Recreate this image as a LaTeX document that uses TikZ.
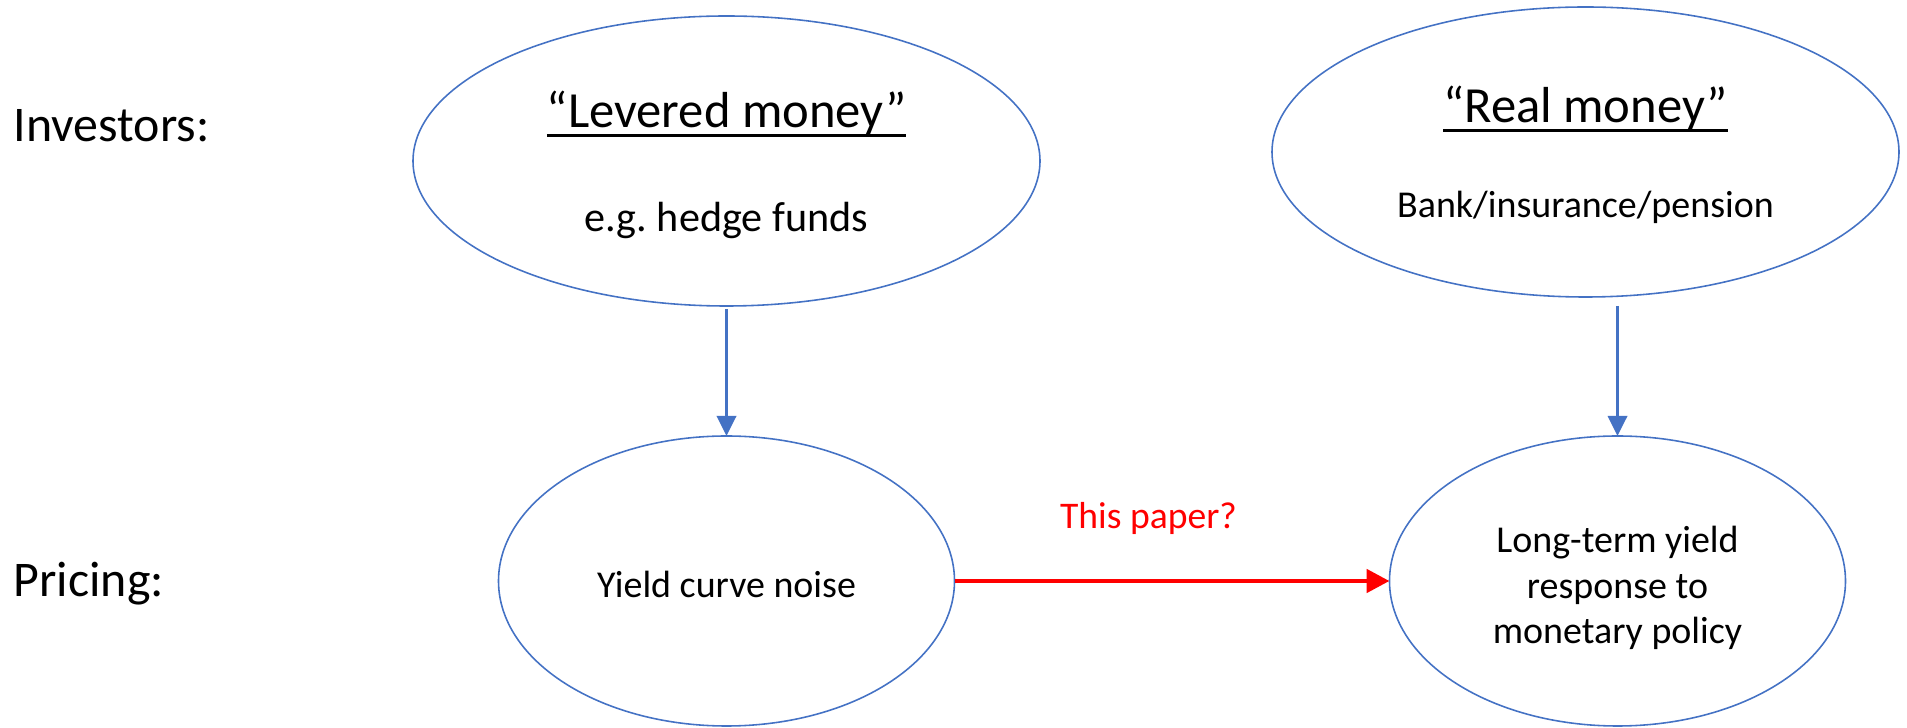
\documentclass[tikz,border=0pt]{standalone}
\usepackage{fontspec}
\setmainfont{Carlito}
\usepackage{xcolor}
\usepackage{tikz}
\usetikzlibrary{positioning, arrows.meta, shapes.geometric}

\definecolor{ellblue}{HTML}{4472C4}
\newcommand{\ulin}[1]{\setbox0\hbox{#1}\rlap{\raisebox{-2.5pt}{\rule{\wd0}{0.9pt}}}\box0}

\begin{document}
\begin{tikzpicture}[
    blob/.style={ellipse, draw=ellblue, line width=0.45pt, inner sep=0pt, outer sep=0pt},
    topblob/.style={blob, minimum width=6.27cm, minimum height=2.9cm},
    lowblob/.style={blob, minimum width=4.56cm, minimum height=2.9cm},
    lowtext/.style={font=\fontsize{10.8}{13}\selectfont, align=center, inner sep=0pt},
    rowlabel/.style={font=\fontsize{14.2}{17}\selectfont, inner sep=0pt, anchor=base west},
    title/.style={font=\fontsize{14.4}{17}\selectfont, inner sep=0pt, anchor=base},
    subtitle/.style={inner sep=0pt, anchor=base},
    arr/.style={-{Triangle[length=0.2cm, width=0.19cm]}, line width=1pt, ellblue},
    redarr/.style={-{Triangle[length=0.23cm, width=0.23cm]}, line width=1.4pt, red},
    paperlbl/.style={font=\fontsize{10.7}{13}\selectfont, text=red, inner sep=0pt, anchor=base},
]
\useasboundingbox (0,0) rectangle (19.07,-7.28);

% Row labels
\node[rowlabel] (inv) at (0.13,-1.42) {Investors:};
\node[rowlabel] (pri) at (0.13,-5.97) {Pricing:};

% Investors
\node[topblob] (lev) at (7.265,-1.61) {};
\node[topblob, right=2.32cm of lev, yshift=0.09cm] (real) {};

\node[title] (levtitle) at ([yshift=0.33cm]lev.center) {\ulin{“Levered money”}};
\node[subtitle, font=\fontsize{12}{14}\selectfont] (levsub) at ([yshift=-0.71cm]lev.center) {e.g.\ hedge funds};
\node[title] (realtitle) at ([yshift=0.29cm]real.center) {\ulin{“Real money”}};
\node[subtitle, font=\fontsize{10.8}{13}\selectfont] (realsub) at ([yshift=-0.66cm]real.center) {Bank/insurance/pension};

% Pricing
\node[lowblob, below=1.3cm of lev] (noise) {};
\node[lowblob, right=4.35cm of noise] (lt) {};

\node[lowtext] (noisetxt) at ([yshift=-0.03cm]noise.center) {Yield curve noise};
\node[lowtext] (lttxt) at ([yshift=-0.07cm]lt.center) {Long-term yield\\response to\\monetary policy};

% Arrows
\draw[arr] ([yshift=-0.03cm]lev.south -| noise.north) -- (noise.north);
\draw[arr] ([yshift=-0.09cm]real.south -| lt.north) -- (lt.north);
\draw[redarr] (noise.east) -- node[paperlbl, pos=0.446, yshift=0.52cm] {This paper?} (lt.west);

\end{tikzpicture}
\end{document}
